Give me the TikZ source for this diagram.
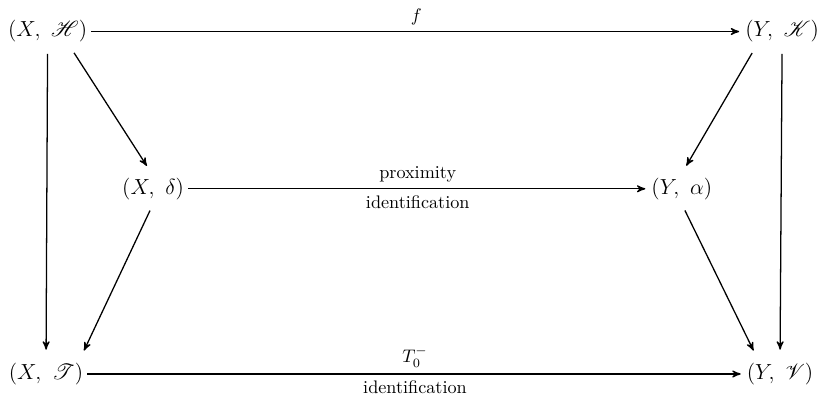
\documentclass[tikz,border=0pt]{standalone}
\usepackage{amsmath}
\usepackage{mathrsfs}
\usetikzlibrary{arrows}

\begin{document}
\begin{tikzpicture}[->, >=stealth', shorten >=1pt, auto, line width=0.7pt]

%====Definizione stile spazi e frecce========================================

	\tikzstyle{spazio}=[inner sep=2pt, font=\large]
	\tikzstyle{obliqua}=[shorten <=4pt, shorten >=5pt]
	\tikzstyle{etichetta}=[font=\normalsize]

	\useasboundingbox (0,0) rectangle (15.93,7.69);

%====Definizione spazi e posizione===========================================

	\node[spazio]	(XH) at (0.92,7.08)		{$(X,\ \mathscr{H})$};
	\node[spazio]	(YK) at (15.12,7.08)	{$(Y,\ \mathscr{K})$};
	\node[spazio]	(Xd) at (2.96,4.04)		{$(X,\ \delta)$};
	\node[spazio]	(Ya) at (13.18,4.04)	{$(Y,\ \alpha)$};
	\node[spazio]	(XT) at (0.89,0.46)		{$(X,\ \mathscr{T})$};
	\node[spazio]	(YV) at (15.08,0.46)	{$(Y,\ \mathscr{V})$};

%====Definizione collegamenti e stile frecce=================================
		%from	stile		scritte		to
	\path	(XH)	edge	node {$f$}								(YK)
			(Xd)	edge	node[etichetta] {proximity}
							node[etichetta,swap] {identification}	(Ya)
			(XT)	edge	node {$T_0^-$}
							node[etichetta,swap] {identification}	(YV)
			(XH.south)	edge[obliqua]							(XT.north)
			(YK.south)	edge[obliqua]							(YV.north)
			(XH.-34)	edge[obliqua]							(Xd.95)
			(Xd.south)	edge[obliqua]							(XT.24)
			(YK.-150)	edge[obliqua]							(Ya.north)
			(Ya.south)	edge[obliqua]							(YV.146);
\end{tikzpicture}
\end{document}
